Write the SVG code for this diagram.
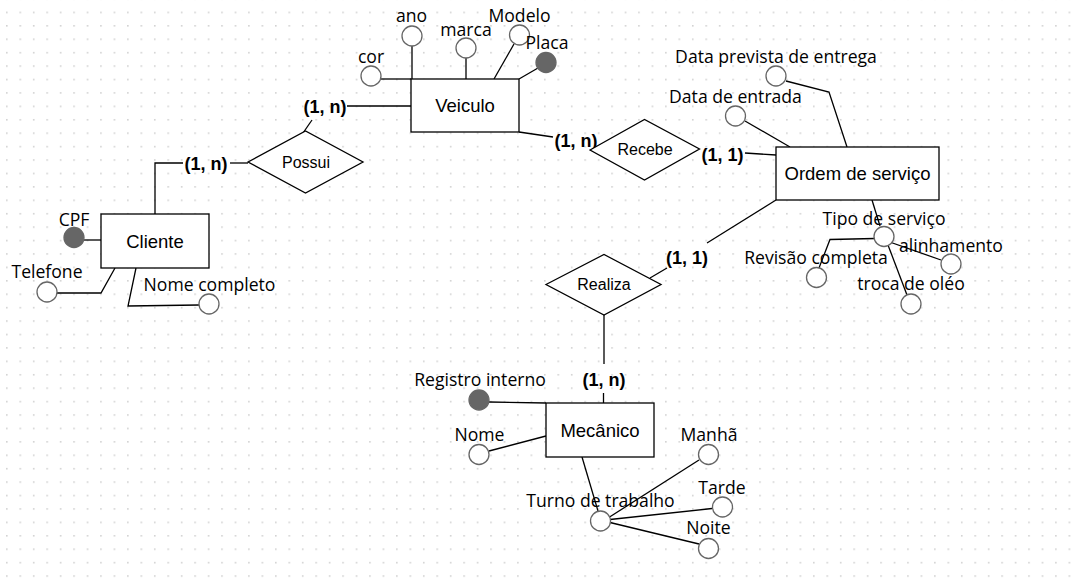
<svg xmlns="http://www.w3.org/2000/svg" width="1082" height="588" viewBox="0 0 1082 588">
<defs>
<pattern id="grid" x="6" y="11.6" width="13.45" height="13.42" patternUnits="userSpaceOnUse">
<rect x="0" y="0" width="1.6" height="1.6" fill="#d2d2d2"/>
</pattern>
<style>
.ent{fill:#fff;stroke:#000;stroke-width:1.3}
.rel{fill:#fff;stroke:#000;stroke-width:1.3}
.att{fill:#fff;stroke:#666;stroke-width:1.3}
.key{fill:#666;stroke:#666;stroke-width:1.3}
.ln{fill:none;stroke:#000;stroke-width:1.3}
.et{font-family:"Liberation Sans",Arial,sans-serif;font-size:18.5px;fill:#000;text-anchor:middle}
.rt{font-family:"Liberation Sans",Arial,sans-serif;font-size:16px;fill:#000;text-anchor:middle}
.ct{font-family:"Liberation Sans",Arial,sans-serif;font-size:18px;font-weight:bold;fill:#000;text-anchor:middle}
.at{font-family:"Open Sans","Noto Sans",sans-serif;font-size:17.6px;fill:#000;text-anchor:middle}
</style>
</defs>
<rect width="1082" height="588" fill="#fff"/>
<rect width="1082" height="588" fill="url(#grid)"/>

<g id="connectors">
<polyline class="ln" points="412,46 412,79"/>
<polyline class="ln" points="466,58 466,79"/>
<polyline class="ln" points="514,44 494,79"/>
<polyline class="ln" points="538,68 519,79"/>
<polyline class="ln" points="381,79 411,79"/>
<polyline class="ln" points="347,106 411,106"/>
<polyline class="ln" points="312,120 303,133"/>
<polyline class="ln" points="248,163 230,163"/>
<polyline class="ln" points="183,163 155,163 155,214"/>
<polyline class="ln" points="84,240 101,240"/>
<polyline class="ln" points="57,293 101,293 115,268"/>
<polyline class="ln" points="136,268 128,306 199,305"/>
<polyline class="ln" points="519,132 553,137"/>
<polyline class="ln" points="745,153 776,155"/>
<polyline class="ln" points="786,81 829,92 847,147"/>
<polyline class="ln" points="745,121 790,147"/>
<polyline class="ln" points="872,200 880,226"/>
<polyline class="ln" points="875,238.5 830,239.5 819,268"/>
<polyline class="ln" points="884,240 941,260"/>
<polyline class="ln" points="888,245 907,295"/>
<polyline class="ln" points="776,200 707,243"/>
<polyline class="ln" points="667,268 650,278"/>
<polyline class="ln" points="604,315 604,364"/>
<polyline class="ln" points="603.5,393 603.5,403"/>
<polyline class="ln" points="489,402 546,403"/>
<polyline class="ln" points="489,451 546,436"/>
<polyline class="ln" points="582,457 598,511"/>
<polyline class="ln" points="608,518 699,460"/>
<polyline class="ln" points="610,519.5 712,508.5"/>
<polyline class="ln" points="610,522.5 699,544"/>
</g>

<g id="cardinalities">
<text class="ct" x="325" y="113">(1, n)</text>
<text class="ct" x="206" y="170">(1, n)</text>
<text class="ct" x="576" y="147">(1, n)</text>
<text class="ct" x="722.5" y="161">(1, 1)</text>
<text class="ct" x="687" y="264">(1, 1)</text>
<text class="ct" x="604" y="386">(1, n)</text>
</g>

<g id="veiculo">
<rect class="ent" x="411" y="79" width="108" height="53"/>
<text class="et" x="465" y="112">Veiculo</text>
</g>
<g id="veiculo-ano"><circle class="att" cx="412" cy="36" r="10"/><text class="at" x="411.5" y="22">ano</text></g>
<g id="veiculo-marca"><circle class="att" cx="466" cy="48" r="10"/><text class="at" x="466" y="36">marca</text></g>
<g id="veiculo-modelo"><circle class="att" cx="519.5" cy="35" r="10"/><text class="at" x="519.5" y="22">Modelo</text></g>
<g id="veiculo-placa"><circle class="key" cx="546" cy="62.5" r="10"/><text class="at" x="547" y="49">Placa</text></g>
<g id="veiculo-cor"><circle class="att" cx="371" cy="76" r="10"/><text class="at" x="371" y="63">cor</text></g>

<g id="possui">
<polygon class="rel" points="248,162 305.5,131 363,162 305.5,193"/>
<text class="rt" x="306" y="168">Possui</text>
</g>

<g id="cliente">
<rect class="ent" x="101" y="214" width="108" height="54"/>
<text class="et" x="155" y="248">Cliente</text>
</g>
<g id="cliente-cpf"><circle class="key" cx="74" cy="237.5" r="10"/><text class="at" x="74" y="226">CPF</text></g>
<g id="cliente-telefone"><circle class="att" cx="47" cy="292" r="10"/><text class="at" x="47" y="278">Telefone</text></g>
<g id="cliente-nome"><circle class="att" cx="209" cy="304" r="10"/><text class="at" x="209.5" y="291">Nome completo</text></g>

<g id="recebe">
<polygon class="rel" points="590,150 644.5,119.5 699.5,149 644.5,180"/>
<text class="rt" x="645" y="154.5">Recebe</text>
</g>

<g id="ordem">
<rect class="ent" x="776" y="147" width="163" height="53"/>
<text class="et" x="857.5" y="180">Ordem de serviço</text>
</g>
<g id="ordem-prevista"><circle class="att" cx="776" cy="76" r="10"/><text class="at" x="776" y="63">Data prevista de entrega</text></g>
<g id="ordem-entrada"><circle class="att" cx="735.5" cy="116" r="10"/><text class="at" x="735.5" y="103">Data de entrada</text></g>
<g id="ordem-tipo"><circle class="att" cx="884" cy="236.5" r="10"/><text class="at" x="884" y="224.5">Tipo de serviço</text></g>
<g id="tipo-revisao"><circle class="att" cx="816.5" cy="277.5" r="10"/><text class="at" x="816" y="263.5">Revisão completa</text></g>
<g id="tipo-alinhamento"><circle class="att" cx="951" cy="264" r="10"/><text class="at" x="951" y="252">alinhamento</text></g>
<g id="tipo-troca"><circle class="att" cx="911" cy="304" r="10"/><text class="at" x="911" y="290">troca de oléo</text></g>

<g id="realiza">
<polygon class="rel" points="546,284.5 604,254.5 661,284.5 604,315"/>
<text class="rt" x="604" y="290">Realiza</text>
</g>

<g id="mecanico">
<rect class="ent" x="546" y="403" width="108" height="54"/>
<text class="et" x="600" y="437">Mecânico</text>
</g>
<g id="mecanico-registro"><circle class="key" cx="479" cy="400" r="10"/><text class="at" x="480" y="386">Registro interno</text></g>
<g id="mecanico-nome"><circle class="att" cx="479" cy="454.5" r="10"/><text class="at" x="479.5" y="441">Nome</text></g>
<g id="mecanico-turno"><circle class="att" cx="600.5" cy="521" r="10"/><text class="at" x="600.5" y="507">Turno de trabalho</text></g>
<g id="turno-manha"><circle class="att" cx="708.5" cy="454.5" r="10"/><text class="at" x="709" y="441">Manhã</text></g>
<g id="turno-tarde"><circle class="att" cx="722.5" cy="507" r="10"/><text class="at" x="722" y="493.5">Tarde</text></g>
<g id="turno-noite"><circle class="att" cx="708.5" cy="548.5" r="10"/><text class="at" x="708.5" y="534">Noite</text></g>
</svg>
